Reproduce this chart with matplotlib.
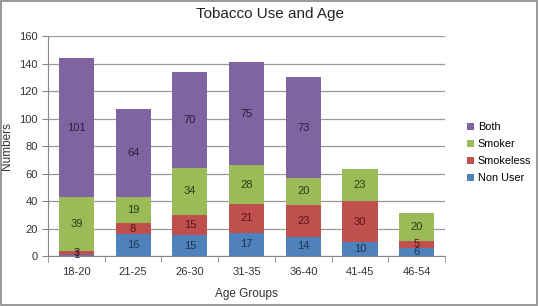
import numpy as np
import matplotlib
matplotlib.use("Agg")
from matplotlib import pyplot as plt
from matplotlib.patches import Rectangle

plt.rcParams['font.family'] = ['Liberation Sans', 'DejaVu Sans']

groups = ['18-20', '21-25', '26-30', '31-35', '36-40', '41-45', '46-54']
non_user = [1, 16, 15, 17, 14, 10, 6]
smokeless = [3, 8, 15, 21, 23, 30, 5]
smoker = [39, 19, 34, 28, 20, 23, 20]
both = [101, 64, 70, 75, 73, 0, 0]

series = [('Non User', non_user, '#4F81BD', '#1F3550'),
          ('Smokeless', smokeless, '#C0504D', '#5A1515'),
          ('Smoker', smoker, '#9BBB59', '#2E3A10'),
          ('Both', both, '#8064A2', '#2A1E3A')]

fig = plt.figure(figsize=(5.39, 3.06), dpi=100)
ax = fig.add_axes([0.089, 0.163, 0.737, 0.719])
fig.patches.append(Rectangle((0.002, 0.004), 0.995, 0.992, transform=fig.transFigure,
                             fill=False, edgecolor='#888888', linewidth=1.2))

x = np.arange(len(groups))
bottom = np.zeros(len(groups))
for name, vals, col, tcol in series:
    vals = np.array(vals, dtype=float)
    ax.bar(x, vals, 0.62, bottom=bottom, color=col, label=name, zorder=3)
    for xi, b, v in zip(x, bottom, vals):
        if v > 0:
            ax.text(xi, b + v / 2, str(int(v)), ha='center', va='center',
                    fontsize=8, color=tcol, zorder=4)
    bottom += vals

ax.set_xlim(-0.5, len(groups) - 0.5)
ax.set_ylim(0, 160)
ax.set_yticks(range(0, 161, 20))
ax.set_xticks(x)
ax.set_xticklabels(groups)
ax.set_xticks(np.arange(-0.5, len(groups), 1), minor=True)
ax.tick_params(axis='x', which='major', length=0, labelsize=8, pad=8, colors='#333333')
ax.tick_params(axis='x', which='minor', length=4, color='#888888')
ax.tick_params(axis='y', length=4, labelsize=8, color='#888888', colors='#333333')
ax.yaxis.grid(True, color='#999999', linewidth=0.9, zorder=0)
for s in ['top', 'right']:
    ax.spines[s].set_visible(False)
for s in ['left', 'bottom']:
    ax.spines[s].set_color('#888888')

ax.set_xlabel('Age Groups', fontsize=8.5, color='#333333', labelpad=8)
ax.set_ylabel('Numbers', fontsize=8.5, color='#333333')
fig.text(0.5, 0.955, 'Tobacco Use and Age', ha='center', va='center', fontsize=11, color='#222222')

h, l = ax.get_legend_handles_labels()
ax.legend(h[::-1], l[::-1], loc='center left', bbox_to_anchor=(1.03, 0.47), frameon=False,
          fontsize=7.8, handlelength=0.7, handleheight=0.7, handletextpad=0.3, labelspacing=0.65)

fig.savefig('out.png', dpi=100)
